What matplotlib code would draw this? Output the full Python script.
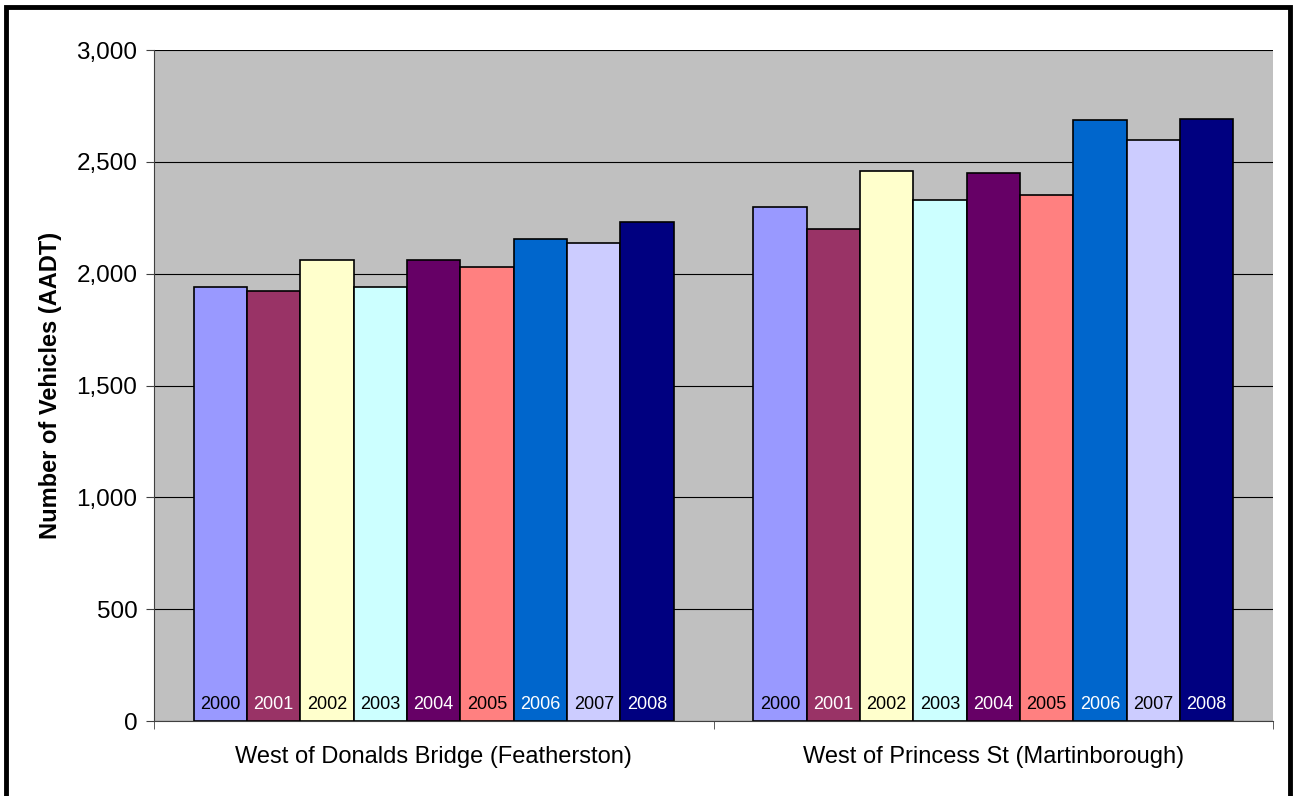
import matplotlib
matplotlib.use("Agg")
import matplotlib.pyplot as plt
import numpy as np
from matplotlib.ticker import FuncFormatter, FixedLocator

plt.rcParams['font.family'] = ['Liberation Sans', 'DejaVu Sans']

# data
sites = ['West of Donalds Bridge (Featherston)', 'West of Princess St (Martinborough)']
years = ['2000', '2001', '2002', '2003', '2004', '2005', '2006', '2007', '2008']
featherston = [1940, 1922, 2061, 1940, 2061, 2030, 2156, 2138, 2232]
martinborough = [2299, 2201, 2460, 2330, 2451, 2351, 2688, 2597, 2691]
colors = ['#9999FF', '#993366', '#FFFFCC', '#CCFFFF', '#660066',
          '#FF8080', '#0066CC', '#CCCCFF', '#000080']
text_colors = ['black', 'white', 'black', 'black', 'white',
               'black', 'white', 'black', 'white']

fig = plt.figure(figsize=(12.95, 7.96), dpi=100)
ax = fig.add_axes([154 / 1295, 1 - 721 / 796, 1119 / 1295, 671 / 796])
ax.set_facecolor('#C0C0C0')

# frame round the whole picture
fig.add_artist(plt.Rectangle((6 / 1295, -0.05), 1284 / 1295, 1.05 - 7 / 796,
                             transform=fig.transFigure, fill=False,
                             edgecolor='black', linewidth=3.5))

x = np.arange(len(sites))
bw = 0.858 / len(years)
for i, yr in enumerate(years):
    vals = [featherston[i], martinborough[i]]
    pos = x - 0.429 + bw * (i + 0.5)
    ax.bar(pos, vals, width=bw, color=colors[i], edgecolor='black',
           linewidth=1.2, zorder=3)
    for p in pos:
        ax.text(p, 75, yr, ha='center', va='center', fontsize=13,
                color=text_colors[i], zorder=4)

ax.set_xlim(-0.5, 1.5)
ax.set_ylim(0, 3000)
ax.set_yticks(np.arange(0, 3001, 500))
ax.yaxis.set_major_formatter(FuncFormatter(lambda v, p: '{:,.0f}'.format(v)))
ax.yaxis.grid(True, color='black', linewidth=0.8, zorder=1)
ax.tick_params(axis='y', labelsize=17.5, length=6, color='#404040', pad=6)

ax.set_xticks(x)
ax.set_xticklabels(sites, fontsize=17)
ax.tick_params(axis='x', length=0, pad=18)
ax.xaxis.set_minor_locator(FixedLocator([-0.5, 0.5, 1.5]))
ax.tick_params(axis='x', which='minor', length=6, color='#404040')

ax.set_ylabel('Number of Vehicles (AADT)', fontsize=17, fontweight='bold', labelpad=10)

for s in ['top', 'right']:
    ax.spines[s].set_visible(False)
for s in ['left', 'bottom']:
    ax.spines[s].set_color('#404040')
    ax.spines[s].set_zorder(5)

fig.savefig('out.png', dpi=100, facecolor='white')
